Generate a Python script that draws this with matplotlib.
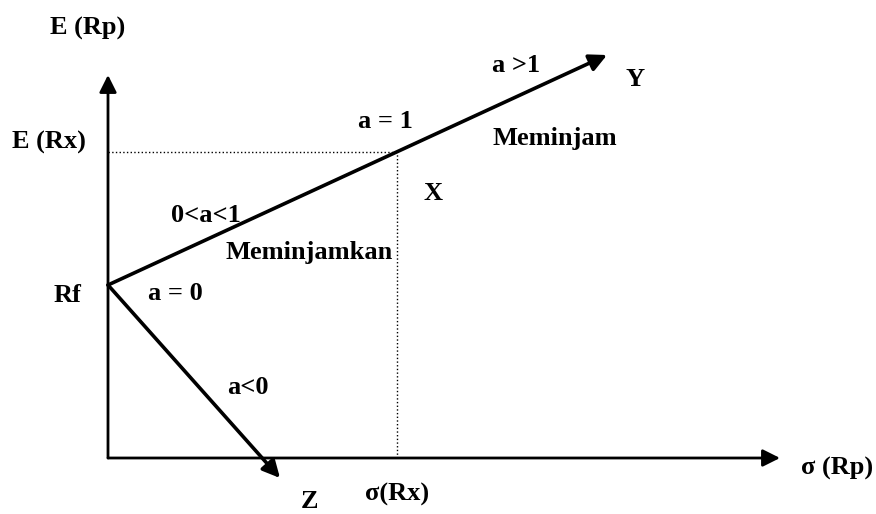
import matplotlib
matplotlib.use("Agg")
import matplotlib.pyplot as plt

plt.rcParams['font.family'] = ['Liberation Serif', 'DejaVu Serif']
plt.rcParams['font.weight'] = 'bold'

# diagram points (sigma, expected return), origin at the axes corner
origin = (0, 0)
rf_point = (0, 173)
x_point = (289, 306)
y_tip = (499, 403)
z_tip = (172, -20)
yaxis_top = (0, 383)
xaxis_end = (672, 0)

# labels and where they sit
labels = ["E (Rp)", "E (Rx)", "a >1", "Y", "a = 1", "Meminjam", "X", "0<a<1",
          "Meminjamkan", "Rf", "a = 0", "a<0", "Z", "σ(Rx)", "σ (Rp)"]
label_x = [-20, -59, 408, 527, 277, 447, 325, 98, 201, -40, 67, 140, 201, 289, 729]
label_y = [430, 316, 393, 378, 337, 319, 265, 243, 205, 163, 165, 71, -43, -36, -10]

fig = plt.figure(figsize=(8.76, 5.14), dpi=100)
ax = fig.add_axes([0, 0, 1, 1])
ax.set_xlim(-108, 768)
ax.set_ylim(-56, 458)
ax.axis('off')


def arrow(start, end, lw=2.2):
    ax.annotate("", xy=end, xytext=start,
                arrowprops=dict(arrowstyle='-|>', color='black', lw=lw,
                                mutation_scale=26, shrinkA=0, shrinkB=0))


# axes
arrow(origin, yaxis_top, lw=2)
arrow(origin, xaxis_end, lw=2)

# capital market line and short line
arrow(rf_point, y_tip, lw=2.6)
arrow(rf_point, z_tip, lw=2.6)

# dotted guides to X
ax.plot([0, x_point[0]], [x_point[1], x_point[1]], color='black', lw=1, ls=':')
ax.plot([x_point[0], x_point[0]], [0, x_point[1]], color='black', lw=1, ls=':')

for t, lx, ly in zip(labels, label_x, label_y):
    ax.text(lx, ly, t, ha='center', va='center', fontsize=19, fontweight='bold')

fig.savefig("out.png", dpi=100)
